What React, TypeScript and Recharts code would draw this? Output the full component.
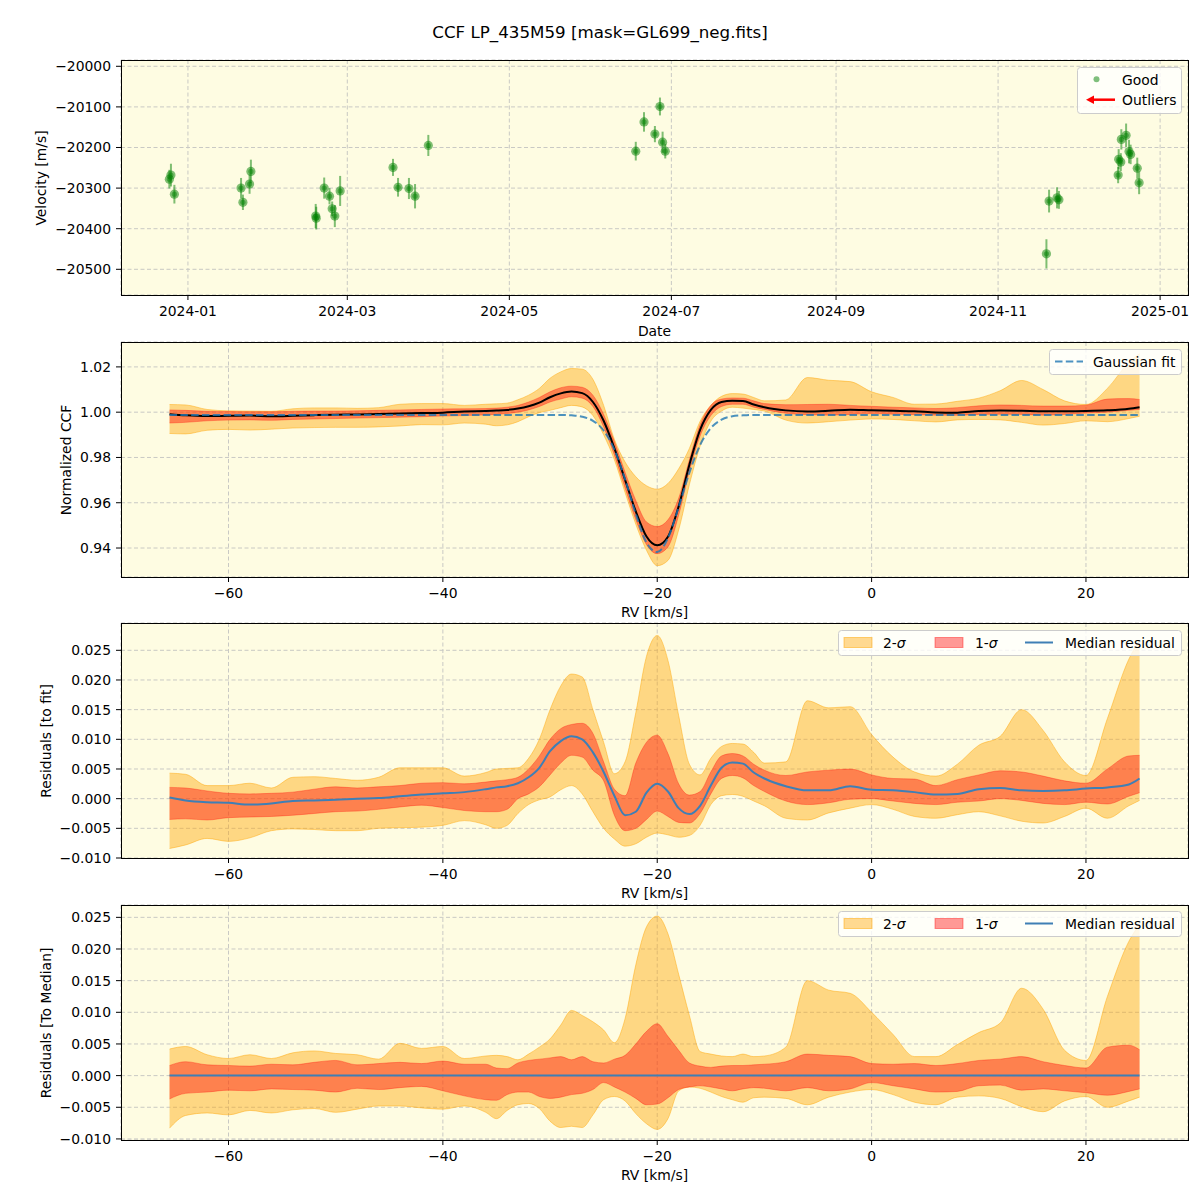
import React from 'react';
import { ScatterChart, Scatter, ErrorBar, ComposedChart, Area, Line, XAxis, YAxis, CartesianGrid } from 'recharts';

const FONT = '"DejaVu Sans", sans-serif';
const BG = '#fefce2';
const GRID = '#c9c9c4';
const PLOT_L = 121;
const PLOT_R = 1188;

// ---- top panel: velocity time series (x = days since 2024-01-01) ----
const DATE_TICKS = [0, 60, 121, 182, 244, 305, 366];
const DATE_LABELS = ['2024-01', '2024-03', '2024-05', '2024-07', '2024-09', '2024-11', '2025-01'];
const VEL_TICKS = [-20500, -20400, -20300, -20200, -20100, -20000];

const OBS_DAY = [-7.0, -6.4, -5.1, 20.0, 20.7, 23.2, 23.7, 48.1, 48.3, 51.3, 53.3, 54.3, 55.3, 57.3, 77.2, 79.1, 83.2, 85.5, 90.5,
  168.6, 171.7, 175.8, 177.7, 178.7, 179.7, 323.2, 324.2, 327.2, 327.9, 350.2, 350.4, 351.2, 351.4, 353.2, 354.3, 354.9, 357.4, 358.1];
const OBS_VEL = [-20278, -20268, -20315, -20300, -20335, -20290, -20259, -20369, -20374, -20300, -20320, -20351, -20369, -20307,
  -20249, -20298, -20301, -20320, -20195, -20209, -20137, -20167, -20099, -20187, -20209, -20462, -20332, -20324, -20329,
  -20268, -20229, -20236, -20180, -20170, -20210, -20217, -20251, -20287];
const OBS_ERR = [23, 28, 23, 25, 19, 24, 29, 30, 28, 26, 20, 18, 27, 37, 21, 23, 26, 30, 26, 23, 24, 20, 22, 26, 18,
  36, 28, 26, 22, 20, 25, 22, 25, 29, 29, 24, 26, 28];

// ---- CCF panels (x = RV in km/s) ----
const RV_TICKS = [-60, -40, -20, 0, 20];
const RV = [-65.5, -64, -62, -60, -58, -56, -54, -52, -50, -48, -46, -44, -42, -40, -38, -36,
  -35, -34, -33, -32, -31, -30, -29, -28, -27, -26, -25, -24, -23, -22, -21, -20, -19, -18, -17, -16, -15, -14, -13, -12, -11, -10,
  -8, -6, -4, -2, 0, 2, 4, 6, 8, 10, 12, 14, 16, 18, 20, 22, 24,
  25];

const CCF_MED = [0.9991, 0.9986, 0.9983, 0.9984, 0.9985, 0.9982, 0.9984, 0.9987, 0.9989, 0.9990, 0.9992, 0.9994, 0.9996, 0.9998, 1.0003, 1.0005,
  1.0007, 1.0010, 1.0016, 1.0026, 1.0042, 1.0066, 1.0083, 1.0091, 1.0084, 1.0045, 0.9962, 0.9841, 0.9701, 0.9562, 0.9451, 0.9412, 0.9450, 0.9584, 0.9768, 0.9922, 1.0010, 1.0045, 1.0050, 1.0049, 1.0034, 1.0022,
  1.0008, 1.0003, 1.0006, 1.0011, 1.0008, 1.0006, 1.0004, 0.9999, 0.9998, 1.0005, 1.0007, 1.0006, 1.0004, 1.0004, 1.0005, 1.0008, 1.0015,
  1.0022];
const CCF_HI1 = [1.0010, 1.0008, 1.0004, 1.0003, 1.0002, 1.0002, 1.0004, 1.0005, 1.0005, 1.0006, 1.0008, 1.0010, 1.0012, 1.0014, 1.0015, 1.0016,
  1.0018, 1.0022, 1.0030, 1.0045, 1.0065, 1.0090, 1.0108, 1.0115, 1.0110, 1.0075, 0.9990, 0.9870, 0.9735, 0.9610, 0.9515, 0.9495, 0.9525, 0.9620, 0.9790, 0.9945, 1.0030, 1.0058, 1.0063, 1.0062, 1.0050, 1.0038,
  1.0033, 1.0034, 1.0035, 1.0030, 1.0026, 1.0022, 1.0019, 1.0016, 1.0020, 1.0028, 1.0032, 1.0030, 1.0027, 1.0027, 1.0031, 1.0058, 1.0060,
  1.0056];
const CCF_LO1 = [0.9952, 0.9955, 0.9962, 0.9965, 0.9966, 0.9964, 0.9968, 0.9970, 0.9972, 0.9974, 0.9976, 0.9978, 0.9980, 0.9983, 0.9985, 0.9988,
  0.9990, 0.9994, 1.0000, 1.0010, 1.0025, 1.0045, 1.0058, 1.0068, 1.0062, 1.0025, 0.9935, 0.9810, 0.9665, 0.9525, 0.9415, 0.9375, 0.9405, 0.9545, 0.9740, 0.9895, 0.9985, 1.0025, 1.0035, 1.0035, 1.0022, 1.0012,
  0.9995, 0.9989, 0.9987, 0.9990, 0.9994, 0.9991, 0.9989, 0.9987, 0.9986, 0.9990, 0.9991, 0.9990, 0.9987, 0.9990, 0.9996, 1.0000, 1.0008,
  1.0012];
const CCF_HI2 = [1.0034, 1.0032, 1.0012, 1.0006, 1.0005, 1.0004, 1.0015, 1.0019, 1.0019, 1.0017, 1.0020, 1.0035, 1.0038, 1.0038, 1.0030, 1.0035,
  1.0037, 1.0040, 1.0055, 1.0075, 1.0105, 1.0150, 1.0178, 1.0193, 1.0190, 1.0145, 1.0030, 0.9880, 0.9780, 0.9715, 0.9675, 0.9660, 0.9685, 0.9750, 0.9840, 0.9960, 1.0030, 1.0070, 1.0082, 1.0080, 1.0065, 1.0050,
  1.0054, 1.0153, 1.0141, 1.0135, 1.0090, 1.0065, 1.0035, 1.0036, 1.0048, 1.0062, 1.0095, 1.0140, 1.0100, 1.0050, 1.0034, 1.0105, 1.0220,
  1.0258];
const CCF_LO2 = [0.9906, 0.9904, 0.9920, 0.9924, 0.9921, 0.9925, 0.9930, 0.9932, 0.9933, 0.9933, 0.9935, 0.9939, 0.9945, 0.9944, 0.9952, 0.9947,
  0.9940, 0.9944, 0.9958, 0.9980, 0.9998, 1.0008, 1.0020, 1.0030, 1.0023, 0.9985, 0.9900, 0.9790, 0.9645, 0.9505, 0.9390, 0.9322, 0.9345, 0.9480, 0.9680, 0.9850, 0.9960, 1.0005, 1.0022, 1.0018, 1.0012, 1.0005,
  0.9965, 0.9952, 0.9958, 0.9965, 0.9970, 0.9968, 0.9962, 0.9957, 0.9966, 0.9968, 0.9966, 0.9955, 0.9943, 0.9950, 0.9962, 0.9958, 0.9972,
  0.9982];
const GAUSS = [0.9988, 0.9988, 0.9988, 0.9988, 0.9988, 0.9988, 0.9988, 0.9988, 0.9988, 0.9988, 0.9988, 0.9988, 0.9988, 0.9988, 0.9988, 0.9988,
  0.9988, 0.9988, 0.9988, 0.9988, 0.9988, 0.9988, 0.9988, 0.9986, 0.9980, 0.9962, 0.9919, 0.9835, 0.9704, 0.9550, 0.9424, 0.9382, 0.9444, 0.9581, 0.9733, 0.9855, 0.9930, 0.9967, 0.9982, 0.9986, 0.9988, 0.9988,
  0.9988, 0.9988, 0.9988, 0.9988, 0.9988, 0.9988, 0.9988, 0.9988, 0.9988, 0.9988, 0.9988, 0.9988, 0.9988, 0.9988, 0.9988, 0.9988, 0.9988,
  0.9988];

// residuals to the gaussian fit
const FIT_MED = [0.0002, -0.0003, -0.0006, -0.0007, -0.0010, -0.0008, -0.0004, -0.0003, -0.0002, 0.0000, 0.0001, 0.0004, 0.0007, 0.0009, 0.0011, 0.0016,
  0.0019, 0.0021, 0.0026, 0.0036, 0.0052, 0.0080, 0.0097, 0.0105, 0.0100, 0.0078, 0.0045, 0.0005, -0.0028, -0.0022, 0.0010, 0.0025, 0.0012, -0.0016, -0.0026, -0.0012, 0.0022, 0.0052, 0.0061, 0.0059, 0.0044, 0.0034,
  0.0021, 0.0014, 0.0014, 0.0021, 0.0015, 0.0014, 0.0011, 0.0007, 0.0008, 0.0016, 0.0018, 0.0014, 0.0013, 0.0014, 0.0017, 0.0019, 0.0024,
  0.0034];
const FIT_HI1 = [0.0019, 0.0018, 0.0013, 0.0009, 0.0008, 0.0009, 0.0011, 0.0016, 0.0020, 0.0018, 0.0020, 0.0022, 0.0026, 0.0027, 0.0025, 0.0028,
  0.0030, 0.0032, 0.0036, 0.0050, 0.0072, 0.0100, 0.0118, 0.0125, 0.0127, 0.0110, 0.0062, 0.0016, 0.0005, 0.0060, 0.0095, 0.0107, 0.0076, 0.0025, 0.0006, 0.0012, 0.0045, 0.0072, 0.0076, 0.0072, 0.0058, 0.0048,
  0.0039, 0.0045, 0.0048, 0.0050, 0.0040, 0.0034, 0.0033, 0.0022, 0.0032, 0.0040, 0.0047, 0.0045, 0.0038, 0.0030, 0.0026, 0.0050, 0.0072,
  0.0073];
const FIT_LO1 = [-0.0035, -0.0034, -0.0036, -0.0032, -0.0031, -0.0030, -0.0028, -0.0025, -0.0022, -0.0021, -0.0018, -0.0014, -0.0011, -0.0015, -0.0020, -0.0022,
  -0.0022, -0.0018, 0.0000, 0.0008, 0.0020, 0.0040, 0.0060, 0.0073, 0.0070, 0.0048, 0.0030, -0.0028, -0.0054, -0.0050, -0.0035, -0.0021, -0.0030, -0.0040, -0.0041, -0.0025, 0.0008, 0.0034, 0.0039, 0.0035, 0.0022, 0.0012,
  -0.0004, -0.0010, -0.0007, -0.0001, 0.0000, -0.0004, -0.0008, -0.0010, -0.0006, -0.0004, 0.0000, -0.0003, -0.0008, -0.0010, -0.0006, -0.0009, 0.0004,
  0.0010];
const FIT_HI2 = [0.0043, 0.0041, 0.0022, 0.0022, 0.0026, 0.0018, 0.0036, 0.0037, 0.0034, 0.0031, 0.0036, 0.0052, 0.0052, 0.0052, 0.0038, 0.0044,
  0.0050, 0.0051, 0.0052, 0.0068, 0.0100, 0.0150, 0.0190, 0.0210, 0.0205, 0.0150, 0.0095, 0.0042, 0.0062, 0.0145, 0.0240, 0.0275, 0.0233, 0.0140, 0.0058, 0.0040, 0.0068, 0.0088, 0.0093, 0.0092, 0.0078, 0.0060,
  0.0062, 0.0165, 0.0153, 0.0155, 0.0108, 0.0070, 0.0045, 0.0038, 0.0058, 0.0090, 0.0105, 0.0150, 0.0115, 0.0062, 0.0039, 0.0135, 0.0235,
  0.0267];
const FIT_LO2 = [-0.0084, -0.0078, -0.0067, -0.0072, -0.0066, -0.0054, -0.0051, -0.0052, -0.0054, -0.0054, -0.0050, -0.0049, -0.0048, -0.0045, -0.0037, -0.0044,
  -0.0050, -0.0045, -0.0025, -0.0010, -0.0002, 0.0003, 0.0015, 0.0022, 0.0008, -0.0022, -0.0050, -0.0068, -0.0080, -0.0076, -0.0065, -0.0058, -0.0061, -0.0065, -0.0062, -0.0045, -0.0010, 0.0005, 0.0007, 0.0004, -0.0004, -0.0012,
  -0.0033, -0.0036, -0.0024, -0.0016, -0.0010, -0.0018, -0.0030, -0.0033, -0.0027, -0.0022, -0.0029, -0.0038, -0.0041, -0.0030, -0.0016, -0.0033, -0.0012,
  -0.0003];

// residuals to the median profile
const TM_MED = [0, 0, 0, 0, 0, 0, 0, 0, 0, 0, 0, 0, 0, 0, 0, 0,
  0, 0, 0, 0, 0, 0, 0, 0, 0, 0, 0, 0, 0, 0, 0, 0, 0, 0, 0, 0, 0, 0, 0, 0, 0, 0,
  0, 0, 0, 0, 0, 0, 0, 0, 0, 0, 0, 0, 0, 0, 0, 0, 0,
  0];
const TM_HI1 = [0.0016, 0.0022, 0.0017, 0.0016, 0.0015, 0.0018, 0.0017, 0.0021, 0.0024, 0.0017, 0.0019, 0.0021, 0.0019, 0.0023, 0.0018, 0.0018,
  0.0012, 0.0011, 0.0020, 0.0024, 0.0026, 0.0028, 0.0030, 0.0025, 0.0030, 0.0022, 0.0020, 0.0026, 0.0032, 0.0050, 0.0070, 0.0082, 0.0062, 0.0040, 0.0020, 0.0015, 0.0013, 0.0015, 0.0016, 0.0016, 0.0017, 0.0018,
  0.0022, 0.0034, 0.0032, 0.0030, 0.0019, 0.0018, 0.0019, 0.0016, 0.0019, 0.0024, 0.0026, 0.0030, 0.0022, 0.0016, 0.0012, 0.0045, 0.0048,
  0.0041];
const TM_LO1 = [-0.0037, -0.0028, -0.0026, -0.0023, -0.0024, -0.0021, -0.0022, -0.0023, -0.0026, -0.0020, -0.0022, -0.0019, -0.0017, -0.0024, -0.0032, -0.0038,
  -0.0039, -0.0030, -0.0026, -0.0026, -0.0033, -0.0036, -0.0034, -0.0030, -0.0028, -0.0022, -0.0011, -0.0018, -0.0026, -0.0036, -0.0046, -0.0045, -0.0035, -0.0022, -0.0018, -0.0016, -0.0018, -0.0021, -0.0024, -0.0021, -0.0019, -0.0020,
  -0.0024, -0.0019, -0.0024, -0.0021, -0.0011, -0.0016, -0.0021, -0.0026, -0.0025, -0.0016, -0.0015, -0.0023, -0.0021, -0.0024, -0.0027, -0.0031, -0.0025,
  -0.0021];
const TM_HI2 = [0.0042, 0.0046, 0.0033, 0.0027, 0.0033, 0.0027, 0.0036, 0.0039, 0.0035, 0.0033, 0.0026, 0.0051, 0.0043, 0.0046, 0.0027, 0.0031,
  0.0032, 0.0030, 0.0025, 0.0034, 0.0045, 0.0058, 0.0080, 0.0103, 0.0095, 0.0085, 0.0072, 0.0052, 0.0090, 0.0175, 0.0235, 0.0252, 0.0224, 0.0160, 0.0095, 0.0038, 0.0034, 0.0031, 0.0030, 0.0034, 0.0030, 0.0031,
  0.0045, 0.0150, 0.0135, 0.0130, 0.0100, 0.0065, 0.0030, 0.0030, 0.0049, 0.0068, 0.0083, 0.0138, 0.0105, 0.0040, 0.0024, 0.0125, 0.0212,
  0.0239];
const TM_LO2 = [-0.0083, -0.0063, -0.0059, -0.0062, -0.0055, -0.0059, -0.0054, -0.0052, -0.0058, -0.0053, -0.0048, -0.0048, -0.0051, -0.0053, -0.0048, -0.0058,
  -0.0068, -0.0055, -0.0046, -0.0044, -0.0052, -0.0072, -0.0082, -0.0080, -0.0082, -0.0062, -0.0038, -0.0033, -0.0040, -0.0060, -0.0076, -0.0085, -0.0068, -0.0024, -0.0018, -0.0020, -0.0026, -0.0033, -0.0038, -0.0042, -0.0035, -0.0034,
  -0.0036, -0.0046, -0.0034, -0.0026, -0.0022, -0.0030, -0.0042, -0.0046, -0.0034, -0.0032, -0.0036, -0.0049, -0.0057, -0.0040, -0.0033, -0.0050, -0.0040,
  -0.0034];

const CCF_TICKS = [0.94, 0.96, 0.98, 1.0, 1.02];
const RES_TICKS = [-0.01, -0.005, 0, 0.005, 0.01, 0.015, 0.02, 0.025];

const minus = (s: string) => s.replace('-', '\u2212');
const TICK = { fill: '#000', fontSize: 13.9, fontFamily: FONT };

const obs = OBS_DAY.map((d, i) => ({ d, v: OBS_VEL[i], e: OBS_ERR[i] }));
const ccfRows = RV.map((rv, i) => ({ rv, b2: [CCF_LO2[i], CCF_HI2[i]], b1: [CCF_LO1[i], CCF_HI1[i]], med: CCF_MED[i], fit: GAUSS[i] }));
const fitRows = RV.map((rv, i) => ({ rv, b2: [FIT_LO2[i], FIT_HI2[i]], b1: [FIT_LO1[i], FIT_HI1[i]], med: FIT_MED[i] }));
const tmRows = RV.map((rv, i) => ({ rv, b2: [TM_LO2[i], TM_HI2[i]], b1: [TM_LO1[i], TM_HI1[i]], med: TM_MED[i] }));

const GoodDot = (p: any) => (
  <g>
    <circle cx={p.cx} cy={p.cy} r={4.6} fill="#008000" fillOpacity={0.5} />
    <circle cx={p.cx} cy={p.cy} r={2.6} fill="#008000" fillOpacity={0.45} />
  </g>
);

function Frame({ top, bottom }: { top: number; bottom: number }) {
  return (
    <div style={{ position: 'absolute', left: PLOT_L, top, width: PLOT_R - PLOT_L + 1, height: bottom - top + 1, border: '1px solid #000', boxSizing: 'border-box', pointerEvents: 'none' }} />
  );
}

function XLabel({ y, text }: { y: number; text: string }) {
  return (
    <div style={{ position: 'absolute', left: (PLOT_L + PLOT_R) / 2, top: y, transform: 'translate(-50%, -50%)', fontSize: 13.9, whiteSpace: 'nowrap' }}>{text}</div>
  );
}

function YLabel({ x, y, text }: { x: number; y: number; text: string }) {
  return (
    <div style={{ position: 'absolute', left: x, top: y, transform: 'translate(-50%, -50%) rotate(-90deg)', fontSize: 13.9, whiteSpace: 'nowrap' }}>{text}</div>
  );
}

interface RvPanelProps {
  top: number;
  height: number;
  plotTop: number;
  plotBottom: number;
  rows: any[];
  yDomain: [number, number];
  yTicks: number[];
  yFmt: (v: number) => string;
  lineColor: string;
  showFit?: boolean;
}

function RvPanel({ top, height, plotTop, plotBottom, rows, yDomain, yTicks, yFmt, lineColor, showFit }: RvPanelProps) {
  return (
    <div style={{ position: 'absolute', left: 0, top }}>
      <ComposedChart width={1200} height={height} data={rows} margin={{ top: plotTop - top, right: 1200 - PLOT_R, bottom: 0, left: 0 }}>
        <CartesianGrid fill={BG} fillOpacity={1} stroke={GRID} strokeDasharray="4 2.5" />
        <XAxis type="number" dataKey="rv" domain={[-70.03, 29.52]} allowDataOverflow ticks={RV_TICKS} interval={0}
          tickFormatter={(v) => minus(String(v))} height={top + height - plotBottom} axisLine={false}
          tickSize={5} tickMargin={6} tick={TICK} tickLine={{ stroke: '#000' }} />
        <YAxis type="number" domain={yDomain} allowDataOverflow ticks={yTicks} interval={0} tickFormatter={yFmt}
          width={PLOT_L} axisLine={false} tickSize={5} tickMargin={5} tick={TICK} tickLine={{ stroke: '#000' }} />
        <Area type="monotone" dataKey="b2" fill="#ffa500" fillOpacity={0.42} stroke="#ffa500" strokeOpacity={0.45} strokeWidth={1} isAnimationActive={false} activeDot={false} dot={false} />
        <Area type="monotone" dataKey="b1" fill="#ff0000" fillOpacity={0.4} stroke="#ff0000" strokeOpacity={0.3} strokeWidth={1} isAnimationActive={false} activeDot={false} dot={false} />
        <Line type="monotone" dataKey="med" stroke={lineColor} strokeWidth={2} dot={false} activeDot={false} isAnimationActive={false} />
        {showFit && (
          <Line type="monotone" dataKey="fit" stroke="#1f77b4" strokeOpacity={0.8} strokeWidth={2} strokeDasharray="7.5 3.3" dot={false} activeDot={false} isAnimationActive={false} />
        )}
      </ComposedChart>
    </div>
  );
}

function SigmaLegend({ top }: { top: number }) {
  return (
    <svg style={{ position: 'absolute', left: 838, top }} width={345} height={27}>
      <rect x={0.5} y={0.5} width={343} height={25} rx={3} fill="#ffffff" fillOpacity={0.8} stroke="#cccccc" />
      <rect x={6} y={7.5} width={28} height={10} fill="#ffa500" fillOpacity={0.42} stroke="#ffa500" strokeOpacity={0.5} />
      <text x={45} y={13} dominantBaseline="central" fontSize={13.9} fontFamily={FONT}>2-<tspan fontStyle="italic">σ</tspan></text>
      <rect x={97} y={7.5} width={28} height={10} fill="#ff0000" fillOpacity={0.4} stroke="#ff0000" strokeOpacity={0.4} />
      <text x={137} y={13} dominantBaseline="central" fontSize={13.9} fontFamily={FONT}>1-<tspan fontStyle="italic">σ</tspan></text>
      <line x1={187} x2={215} y1={12.5} y2={12.5} stroke="#3f7fb5" strokeWidth={2} />
      <text x={227} y={13} dominantBaseline="central" fontSize={13.9} fontFamily={FONT}>Median residual</text>
    </svg>
  );
}

export default function App() {
  return (
    <div style={{ position: 'absolute', left: 0, top: 0, width: 1200, height: 1200, background: '#fff', fontFamily: FONT, color: '#000' }}>
      <div style={{ position: 'absolute', left: 0, top: 22, width: 1200, textAlign: 'center', fontSize: 16.7, lineHeight: '20px' }}>
        CCF LP_435M59 [mask=GL699_neg.fits]
      </div>

      {/* panel 1: velocities */}
      <div style={{ position: 'absolute', left: 0, top: 0 }}>
        <ScatterChart width={1200} height={340} margin={{ top: 60, right: 1200 - PLOT_R, bottom: 0, left: 0 }}>
          <CartesianGrid fill={BG} fillOpacity={1} stroke={GRID} strokeDasharray="4 2.5" />
          <XAxis type="number" dataKey="d" domain={[-25.2, 376.5]} allowDataOverflow ticks={DATE_TICKS} interval={0}
            tickFormatter={(v) => DATE_LABELS[DATE_TICKS.indexOf(v)] ?? ''} height={45} axisLine={false}
            tickSize={5} tickMargin={6} tick={TICK} tickLine={{ stroke: '#000' }} />
          <YAxis type="number" dataKey="v" domain={[-20563.3, -19984.5]} allowDataOverflow ticks={VEL_TICKS} interval={0}
            tickFormatter={(v) => minus(String(v))} width={PLOT_L} axisLine={false} tickSize={5} tickMargin={5}
            tick={TICK} tickLine={{ stroke: '#000' }} />
          <Scatter data={obs} shape={GoodDot} isAnimationActive={false}>
            <ErrorBar dataKey="e" direction="y" width={0} stroke="#008000" strokeOpacity={0.5} strokeWidth={2} />
          </Scatter>
        </ScatterChart>
      </div>
      <Frame top={60} bottom={295} />
      <XLabel y={331} text="Date" />
      <YLabel x={41} y={177.5} text="Velocity [m/s]" />
      <svg style={{ position: 'absolute', left: 1077, top: 67 }} width={106} height={48}>
        <rect x={0.5} y={0.5} width={104} height={46} rx={3} fill="#ffffff" fillOpacity={0.8} stroke="#cccccc" />
        <circle cx={19.5} cy={12.3} r={3} fill="#008000" fillOpacity={0.5} />
        <text x={45} y={12.8} dominantBaseline="central" fontSize={13.9} fontFamily={FONT}>Good</text>
        <line x1={15} x2={38} y1={32.7} y2={32.7} stroke="#ff0000" strokeWidth={2.5} />
        <polygon points="9,32.7 17,28.5 17,36.9" fill="#ff0000" />
        <text x={45} y={33.2} dominantBaseline="central" fontSize={13.9} fontFamily={FONT}>Outliers</text>
      </svg>

      {/* panel 2: normalized CCF */}
      <RvPanel top={340} height={280} plotTop={342} plotBottom={577} rows={ccfRows} yDomain={[0.9272, 1.031]}
        yTicks={CCF_TICKS} yFmt={(v) => v.toFixed(2)} lineColor="#000000" showFit />
      <Frame top={342} bottom={577} />
      <XLabel y={612} text="RV [km/s]" />
      <YLabel x={66} y={459.5} text="Normalized CCF" />
      <svg style={{ position: 'absolute', left: 1049, top: 349 }} width={134} height={27}>
        <rect x={0.5} y={0.5} width={132} height={25} rx={3} fill="#ffffff" fillOpacity={0.8} stroke="#cccccc" />
        <line x1={6} x2={34} y1={12.5} y2={12.5} stroke="#1f77b4" strokeOpacity={0.8} strokeWidth={2} strokeDasharray="7.5 3.3" />
        <text x={44} y={13} dominantBaseline="central" fontSize={13.9} fontFamily={FONT}>Gaussian fit</text>
      </svg>

      {/* panel 3: residuals to fit */}
      <RvPanel top={620} height={280} plotTop={623} plotBottom={858} rows={fitRows} yDomain={[-0.0100, 0.0296]}
        yTicks={RES_TICKS} yFmt={(v) => minus(v.toFixed(3))} lineColor="#3f7fb5" />
      <Frame top={623} bottom={858} />
      <XLabel y={893} text="RV [km/s]" />
      <YLabel x={46} y={740.5} text="Residuals [to fit]" />
      <SigmaLegend top={630} />

      {/* panel 4: residuals to median */}
      <RvPanel top={900} height={290} plotTop={905} plotBottom={1140} rows={tmRows} yDomain={[-0.01017, 0.02695]}
        yTicks={RES_TICKS} yFmt={(v) => minus(v.toFixed(3))} lineColor="#3f7fb5" />
      <Frame top={905} bottom={1140} />
      <XLabel y={1175} text="RV [km/s]" />
      <YLabel x={46} y={1022.5} text="Residuals [To Median]" />
      <SigmaLegend top={911} />
    </div>
  );
}
